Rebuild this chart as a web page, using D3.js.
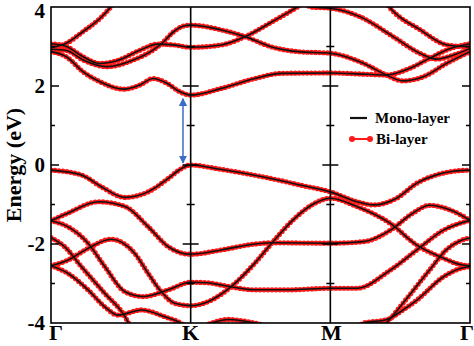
<!DOCTYPE html>
<html>
<head>
<meta charset="utf-8">
<script src="https://cdn.jsdelivr.net/npm/d3@7"></script>
<style>
  html, body { margin: 0; padding: 0; background: #fff; }
  svg { display: block; }
  text { font-family: "Liberation Serif", "Times New Roman", serif; font-weight: bold; fill: #000; }
</style>
</head>
<body>
<svg id="chart" width="474" height="346"></svg>
<script>
// ---------- data ----------
const kPoints = [0, 1, 2, 3];
const kLabels = ["Γ", "K", "M", "Γ"];
const yTickValues = [-4, -3, -2, -1, 0, 1, 2, 3, 4];
const yTickLabels = ["-4", "", "-2", "", "0", "", "2", "", "4"];

// bands: [k (path coordinate), energy (eV)]
const bandC1 = [[0,2.87],[0.11,2.74],[0.23,2.36],[0.35,2.11],[0.52,1.92],[0.64,2.03],[0.73,2.19],[0.83,2.07],[0.92,1.86],[1,1.77],[1.22,1.94],[1.46,2.19],[1.65,2.32],[2,2.33],[2.24,2.30],[2.40,2.28],[2.57,2.45],[2.71,2.70],[2.86,2.95],[3,3.07]];
const bandC2 = [[0,3.07],[0.11,3.0],[0.23,2.74],[0.35,2.57],[0.47,2.64],[0.64,2.91],[0.76,3.06],[0.88,3.04],[1,2.98],[1.22,3.04],[1.39,3.25],[1.58,3.62],[1.75,3.97],[1.85,4.2]];
const bandC3 = [[0,2.93],[0.11,2.90],[0.23,2.66],[0.40,2.49],[0.59,2.66],[0.73,2.91],[0.80,3.10],[0.88,3.38],[0.95,3.52],[1,3.54],[1.22,3.42],[1.39,3.25],[1.58,2.99],[1.77,2.87],[2,2.83],[2.24,2.57],[2.40,2.28],[2.52,2.13],[2.67,2.24],[2.83,2.57],[3,2.87]];
const bandC4 = [[0,2.97],[0.11,3.08],[0.23,3.38],[0.35,3.71],[0.42,3.97],[0.47,4.2]];
const bandC5 = [[1.8,4.15],[1.86,4.0],[2,3.97],[2.215,3.75],[2.45,3.25],[2.645,2.82],[2.76,2.68],[2.88,2.78],[3,2.95]];
const bandC6 = [[2.38,4.2],[2.43,3.97],[2.645,3.42],[2.835,3.04],[3,2.99]];
const bandV1 = [[0,-0.13],[0.217,-0.25],[0.36,-0.55],[0.53,-0.82],[0.695,-0.68],[0.84,-0.34],[0.92,-0.12],[1,0],[1.2,-0.1],[1.4,-0.22],[1.6,-0.36],[1.8,-0.52],[2,-0.68],[2.19,-0.93],[2.31,-1.01],[2.475,-0.84],[2.62,-0.46],[2.76,-0.25],[2.88,-0.16],[3,-0.13]];
const bandV2 = [[0,-1.41],[0.12,-1.22],[0.34,-0.93],[0.53,-1.05],[0.695,-1.56],[0.84,-2.07],[1,-2.26],[1.22,-2.15],[1.46,-2.0],[1.6,-1.97],[2,-1.98],[2.24,-1.94],[2.43,-1.65],[2.59,-1.22],[2.71,-1.02],[2.86,-1.14],[3,-1.40]];
const bandV3 = [[0,-1.41],[0.12,-1.56],[0.265,-1.98],[0.385,-2.57],[0.53,-3.21],[0.66,-3.33],[0.84,-3.16],[1,-2.97],[1.12,-2.98],[1.22,-3.04],[1.46,-3.16],[1.7,-3.16],[2,-3.12],[2.19,-3.12],[2.43,-2.66],[2.62,-2.15],[2.81,-1.65],[3,-1.40]];
const bandV4 = [[0,-1.84],[0.098,-2.07],[0.217,-2.57],[0.385,-3.25],[0.53,-3.84],[0.57,-4.1]];
const bandV5 = [[0,-2.55],[0.12,-2.41],[0.265,-2.11],[0.43,-1.88],[0.60,-2.24],[0.695,-2.74],[0.79,-3.21],[0.885,-3.50],[1,-3.56],[1.124,-3.46],[1.29,-3.08],[1.458,-2.49],[1.60,-1.90],[1.745,-1.35],[1.888,-0.97],[2,-0.84],[2.19,-1.05],[2.43,-1.48],[2.62,-2.03],[2.81,-2.36],[2.93,-2.52],[3,-2.55]];
const bandV6 = [[0,-2.55],[0.12,-2.74],[0.265,-3.16],[0.385,-3.59],[0.48,-3.80],[0.647,-3.67],[0.814,-3.84],[0.933,-4.01],[0.97,-4.1]];
const bandV7 = [[1.08,-4.1],[1.15,-4.0],[1.27,-3.91],[1.38,-3.95],[1.46,-4.0],[1.55,-4.08]];
const bandV8 = [[2.2,-4.1],[2.24,-4.0],[2.40,-3.92],[2.52,-3.67],[2.62,-3.42],[2.81,-2.83],[2.93,-2.62],[3,-2.57]];
const bandV9 = [[2.37,-4.1],[2.40,-4.0],[2.52,-3.5],[2.71,-2.66],[2.83,-2.15],[2.93,-1.92],[3,-1.84]];

const monoBands = [bandC1, bandC2, bandC3, bandC4, bandC5, bandC6, bandV1, bandV2, bandV3, bandV4, bandV5, bandV6, bandV7, bandV8, bandV9];
const biBands = monoBands; // bi-layer bands overlap the mono-layer ones

const gapArrowK = 0.945;
const gapArrowE = [0.05, 1.68];

const seriesNames = ["Mono-layer", "Bi-layer"];

// ---------- drawing ----------
const svg = d3.select("#chart");
const pL = 51, pR = 470, pT = 7, pB = 323;
const x = d3.scaleLinear().domain([0, 3]).range([pL, pR]);
const y = d3.scaleLinear().domain([-4, 4]).range([pB, pT]);

const defs = svg.append("defs");
defs.append("clipPath").attr("id", "plotclip")
  .append("rect").attr("x", pL).attr("y", pT).attr("width", pR - pL).attr("height", pB - pT);

const line = d3.line().x(d => x(d[0])).y(d => y(d[1])).curve(d3.curveMonotoneX);

const plot = svg.append("g").attr("clip-path", "url(#plotclip)");

// bi-layer: red line + dots
plot.selectAll("path.bi-line").data(biBands).join("path")
  .attr("class", "bi-line").attr("d", line)
  .attr("fill", "none").attr("stroke", "#ff1a1a").attr("stroke-width", 2.2);
plot.selectAll("path.bi-dots").data(biBands).join("path")
  .attr("class", "bi-dots").attr("d", line)
  .attr("fill", "none").attr("stroke", "#ff1a1a").attr("stroke-width", 5.2)
  .attr("stroke-linecap", "round").attr("stroke-dasharray", "0 4");

// mono-layer: black line
plot.selectAll("path.mono").data(monoBands).join("path")
  .attr("class", "mono").attr("d", line)
  .attr("fill", "none").attr("stroke", "#111").attr("stroke-width", 1.6);

// frame + vertical lines
svg.append("rect").attr("x", pL).attr("y", pT).attr("width", pR - pL).attr("height", pB - pT)
  .attr("fill", "none").attr("stroke", "#000").attr("stroke-width", 1.6);
svg.selectAll("line.kline").data(kPoints.slice(1, 3)).join("line")
  .attr("class", "kline")
  .attr("x1", d => x(d)).attr("x2", d => x(d)).attr("y1", pT).attr("y2", pB)
  .attr("stroke", "#000").attr("stroke-width", 1.6);

// ticks
const tickLen = v => (v % 2 === 0 ? 8 : 4);
const inner = yTickValues.filter(v => v > -4 && v < 4);
svg.selectAll("line.ltick").data(inner).join("line").attr("class", "ltick")
  .attr("x1", pL).attr("x2", v => pL + tickLen(v))
  .attr("y1", v => y(v)).attr("y2", v => y(v)).attr("stroke", "#000").attr("stroke-width", 1.5);
svg.selectAll("line.rtick").data(inner).join("line").attr("class", "rtick")
  .attr("x1", pR).attr("x2", v => pR - tickLen(v))
  .attr("y1", v => y(v)).attr("y2", v => y(v)).attr("stroke", "#000").attr("stroke-width", 1.5);
kPoints.slice(1, 3).forEach(k => {
  svg.append("g").selectAll("line").data(inner).join("line")
    .attr("x1", v => x(k) - tickLen(v)).attr("x2", v => x(k) + tickLen(v))
    .attr("y1", v => y(v)).attr("y2", v => y(v)).attr("stroke", "#000").attr("stroke-width", 1.5);
});

// y tick labels (top label kept inside the picture)
svg.selectAll("text.ylab").data(yTickValues.map((v, i) => [v, yTickLabels[i]]).filter(d => d[1] !== ""))
  .join("text").attr("class", "ylab")
  .attr("x", 45).attr("y", d => Math.max(y(d[0]), 11)).attr("dy", "0.35em")
  .attr("text-anchor", "end").attr("font-size", 21).text(d => d[1]);

// x labels (kept inside the picture)
const xLabelShift = [5, 0, 1, -3];
svg.selectAll("text.xlab").data(kPoints).join("text").attr("class", "xlab")
  .attr("x", (d, i) => x(d) + xLabelShift[i]).attr("y", 340)
  .attr("text-anchor", "middle").attr("font-size", 22).text((d, i) => kLabels[i]);

// y axis title
svg.append("text").attr("transform", "translate(21,165) rotate(-90)")
  .attr("text-anchor", "middle").attr("font-size", 22).text("Energy (eV)");

// gap arrow
["start", "end"].forEach(t => {
  defs.append("marker").attr("id", "ah-" + t)
    .attr("viewBox", "0 0 10 10").attr("refX", 9).attr("refY", 5)
    .attr("markerWidth", 5.5).attr("markerHeight", 5.5)
    .attr("orient", t === "start" ? "auto-start-reverse" : "auto")
    .append("path").attr("d", "M0,0 L10,5 L0,10 Z").attr("fill", "#3a6cc8");
});
svg.append("line")
  .attr("x1", x(gapArrowK)).attr("x2", x(gapArrowK))
  .attr("y1", y(gapArrowE[0])).attr("y2", y(gapArrowE[1]))
  .attr("stroke", "#3a6cc8").attr("stroke-width", 1.5)
  .attr("marker-start", "url(#ah-start)").attr("marker-end", "url(#ah-end)");

// legend
const lg = svg.append("g");
lg.append("line").attr("x1", 350).attr("x2", 367).attr("y1", 118).attr("y2", 118)
  .attr("stroke", "#111").attr("stroke-width", 2.2);
lg.append("text").attr("x", 375).attr("y", 118).attr("dy", "0.35em").attr("font-size", 15).text(seriesNames[0]);
lg.append("line").attr("x1", 352).attr("x2", 370).attr("y1", 139).attr("y2", 139)
  .attr("stroke", "#ff1a1a").attr("stroke-width", 2);
lg.selectAll("circle").data([352, 370]).join("circle")
  .attr("cx", d => d).attr("cy", 139).attr("r", 3).attr("fill", "#ff1a1a");
lg.append("text").attr("x", 376).attr("y", 139).attr("dy", "0.35em").attr("font-size", 15).text(seriesNames[1]);
</script>
</body>
</html>
